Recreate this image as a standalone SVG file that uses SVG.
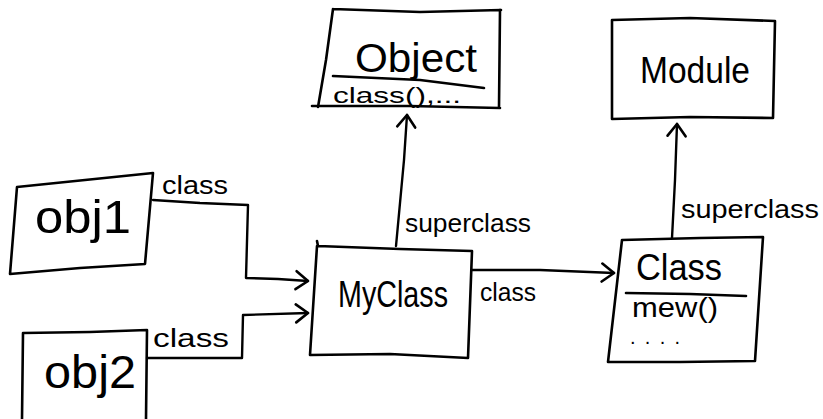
<svg xmlns="http://www.w3.org/2000/svg" width="823" height="419" viewBox="0 0 823 419">
  <style>
    .box { fill: none; stroke: #000; stroke-width: 2.6; stroke-linejoin: round; stroke-linecap: round; }
    .edge { fill: none; stroke: #000; stroke-width: 2.4; stroke-linecap: round; stroke-linejoin: round; }
    .lbl { font-family: "Liberation Sans", "DejaVu Sans", sans-serif; fill: #000; }
  </style>
  <defs>
    <marker id="arrow" markerUnits="userSpaceOnUse" markerWidth="20" markerHeight="24" refX="14" refY="12" orient="auto" viewBox="0 0 20 24">
      <path d="M2,3 L14,12 L2,21" fill="none" stroke="#000" stroke-width="2.6" stroke-linecap="round" stroke-linejoin="round"/>
    </marker>
  </defs>
  <rect width="823" height="419" fill="#fff"/>

  <!-- connectors -->
  <g id="connectors">
    <!-- obj1 -> MyClass -->
    <path class="edge" d="M153,200 L200,203 L248,205 L246,278 L278,279 L308,281" marker-end="url(#arrow)"/>
    <text class="lbl" x="162" y="194" font-size="26" textLength="66" lengthAdjust="spacingAndGlyphs">class</text>
    <!-- obj2 -> MyClass -->
    <path class="edge" d="M147,358 L242,358 L243,315 L308,313" marker-end="url(#arrow)"/>
    <text class="lbl" x="153" y="347" font-size="26" textLength="76" lengthAdjust="spacingAndGlyphs">class</text>
    <!-- MyClass -> Object -->
    <path class="edge" d="M396,246 L404,160 L407,115" marker-end="url(#arrow)"/>
    <text class="lbl" x="405" y="232" font-size="26" textLength="126" lengthAdjust="spacingAndGlyphs">superclass</text>
    <!-- MyClass -> Class -->
    <path class="edge" d="M472,270 L540,270 L614,273" marker-end="url(#arrow)"/>
    <text class="lbl" x="480" y="301" font-size="26" textLength="56" lengthAdjust="spacingAndGlyphs">class</text>
    <!-- Class -> Module -->
    <path class="edge" d="M672,238 L675,180 L677,124" marker-end="url(#arrow)"/>
    <text class="lbl" x="681" y="218" font-size="26" textLength="138" lengthAdjust="spacingAndGlyphs">superclass</text>
  </g>

  <!-- Object -->
  <g id="node-object">
    <path class="box" d="M333,9 L420,12 L501,10 M333,9 L326,60 L318,107 M312,106 L410,106 L500,108 M500,10 L499,107"/>
    <path class="box" d="M333,76 L420,80 L484,88"/>
    <text class="lbl" x="355" y="72" font-size="40" textLength="122" lengthAdjust="spacingAndGlyphs">Object</text>
    <text class="lbl" x="333" y="103" font-size="22" textLength="128" lengthAdjust="spacingAndGlyphs">class(),...</text>
  </g>

  <!-- Module -->
  <g id="node-module">
    <path class="box" d="M612,20 L690,18 L775,21 L773,118 L690,117 L612,119 Z"/>
    <text class="lbl" x="640" y="83" font-size="36" textLength="110" lengthAdjust="spacingAndGlyphs">Module</text>
  </g>

  <!-- obj1 -->
  <g id="node-obj1">
    <path class="box" d="M17,187 L85,180 L153,173 L145,264 L80,268 L10,274 Z"/>
    <text class="lbl" x="35" y="233" font-size="46" textLength="96" lengthAdjust="spacingAndGlyphs">obj1</text>
  </g>

  <!-- obj2 -->
  <g id="node-obj2">
    <path class="box" d="M23,333 L90,332 L147,330 L146,419 M23,333 L22,419"/>
    <text class="lbl" x="44" y="388" font-size="46" textLength="92" lengthAdjust="spacingAndGlyphs">obj2</text>
  </g>

  <!-- MyClass -->
  <g id="node-myclass">
    <path class="box" d="M317,241 L318,246 L400,249 L472,251 L468,358 L390,354 L310,355 L317,246"/>
    <text class="lbl" x="338" y="307" font-size="36" textLength="110" lengthAdjust="spacingAndGlyphs">MyClass</text>
  </g>

  <!-- Class -->
  <g id="node-class">
    <path class="box" d="M622,240 L700,238 L763,237 L755,361 L680,362 L608,362 Z"/>
    <path class="box" d="M626,293 L690,294 L746,296"/>
    <text class="lbl" x="636" y="280" font-size="36" textLength="86" lengthAdjust="spacingAndGlyphs">Class</text>
    <text class="lbl" x="632" y="317" font-size="28" textLength="86" lengthAdjust="spacingAndGlyphs">mew()</text>
    <text class="lbl" x="630" y="344" font-size="20" textLength="50" lengthAdjust="spacing">....</text>
  </g>
</svg>
